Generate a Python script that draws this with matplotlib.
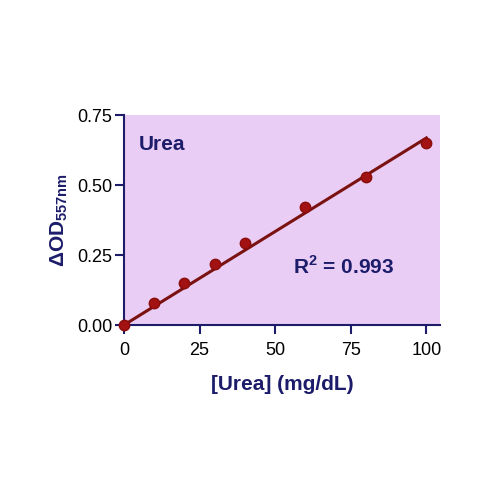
import numpy as np
import matplotlib
matplotlib.use("Agg")
from matplotlib import pyplot as plt

plt.rcParams["font.family"] = ["Liberation Sans", "DejaVu Sans"]
plt.rcParams["mathtext.fontset"] = "custom"
plt.rcParams["mathtext.rm"] = "Liberation Sans"
plt.rcParams["mathtext.bf"] = "Liberation Sans:bold"

# values
urea = [0, 10, 20, 30, 40, 60, 80, 100]
delta_od = [0.0, 0.080, 0.151, 0.218, 0.292, 0.423, 0.527, 0.649]
# the fitted line as drawn in the picture (end points)
fit_x = [0, 100]
fit_y = [0.0, 0.668]
x_ticks = [0, 25, 50, 75, 100]
y_ticks = [0.00, 0.25, 0.50, 0.75]

navy = "#1c1c6b"
pink = "#eacdf4"
dot_red = "#a31212"
line_red = "#7a1212"

fig = plt.figure(figsize=(5, 5), dpi=100)
ax = fig.add_axes([0.248, 0.35, 0.632, 0.42])
ax.set_facecolor(pink)

ax.plot(fit_x, fit_y, color=line_red, lw=2.2, zorder=2)
ax.plot(urea, delta_od, "o", ms=7.5, color=dot_red, mec="#8a0c0c", zorder=3, clip_on=False)

ax.set_xlim(0, 104.5)
ax.set_ylim(0, 0.75)
ax.set_xticks(x_ticks)
ax.set_yticks(y_ticks)
ax.set_yticklabels([f"{v:.2f}" for v in y_ticks])
ax.tick_params(colors=navy, labelcolor="black", labelsize=13, width=1.5, length=6.5)
ax.tick_params(axis="x", pad=6)
ax.tick_params(axis="y", pad=2)

for side in ["top", "right"]:
    ax.spines[side].set_visible(False)
for side in ["left", "bottom"]:
    ax.spines[side].set_color(navy)
    ax.spines[side].set_linewidth(1.5)

ax.set_xlabel("[Urea] (mg/dL)", color=navy, fontsize=15, fontweight="bold", labelpad=11)
ax.set_ylabel(r"$\mathbf{\Delta OD_{557nm}}$", color=navy, fontsize=15, labelpad=5)

ax.text(5, 0.645, "Urea", color=navy, fontsize=15, fontweight="bold", va="center")
ax.text(56, 0.208, r"R$^{\mathbf{2}}$ = 0.993", color=navy, fontsize=15, fontweight="bold", va="center")

fig.savefig("out.png", dpi=100)
